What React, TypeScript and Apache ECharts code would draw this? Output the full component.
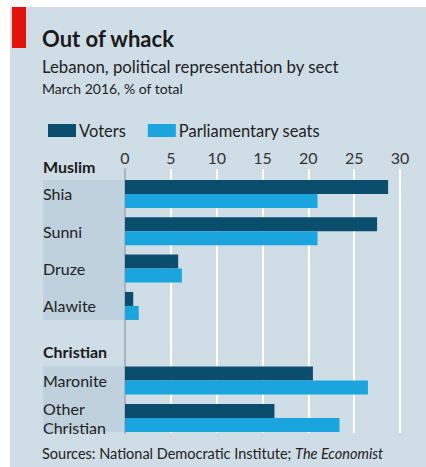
import React, { useEffect, useRef } from "react";
import * as echarts from "echarts";

const categories = ["Shia", "Sunni", "Druze", "Alawite", "", "Maronite", "Other\nChristian"];
const voters = [28.7, 27.5, 5.8, 0.9, null, 20.5, 16.3];
const seats = [21.0, 21.0, 6.2, 1.5, null, 26.5, 23.4];
const xTicks = [0, 5, 10, 15, 20, 25, 30];

const FONT = "Lato";
const BG = "#cfdde7";
const BAND = "#bed1dd";
const DARK = "#0b4d6c";
const LIGHT = "#1aa5de";

export default function App() {
  const ref = useRef<HTMLDivElement>(null);
  useEffect(() => {
    const chart = echarts.init(ref.current!, null, { renderer: "svg" });
    const option: any = {
      animation: false,
      backgroundColor: "#ffffff",
      textStyle: { fontFamily: FONT },
      legend: {
        left: 43,
        top: 117,
        itemWidth: 28,
        itemHeight: 13,
        itemGap: 22,
        icon: "rect",
        textStyle: { fontFamily: FONT, fontSize: 16.5, color: "#222", padding: [0, 0, 0, -2] },
        data: ["Voters", "Parliamentary seats"],
      },
      grid: [
        { left: 125, right: 26, top: 175.3, height: 261.3 },
        { left: 125, right: 26, top: 169, bottom: 34 },
      ],
      xAxis: [
        { type: "value", gridIndex: 0, min: 0, max: 30, interval: 5, show: false },
        {
          type: "value",
          gridIndex: 1,
          min: 0,
          max: 30,
          interval: 5,
          position: "top",
          axisLine: { show: false },
          axisTick: { show: false },
          axisLabel: {
            margin: 4,
            fontFamily: FONT,
            fontSize: 16,
            color: "#333",
            customValues: xTicks,
          },
          splitLine: { show: true, lineStyle: { color: "#ffffff", width: 2 } },
        },
      ],
      yAxis: [
        {
          type: "category",
          gridIndex: 0,
          inverse: true,
          data: categories,
          axisLine: { show: false },
          axisTick: { show: false },
          axisLabel: {
            align: "left",
            margin: 82,
            fontFamily: FONT,
            fontSize: 16,
            color: "#222",
            lineHeight: 19,
          },
        },
        {
          type: "value",
          gridIndex: 1,
          min: 0,
          max: 1,
          axisLine: { show: true, lineStyle: { color: "#8c9ba6", width: 1.5 } },
          axisTick: { show: false },
          axisLabel: { show: false },
          splitLine: { show: false },
        },
      ],
      series: [
        {
          name: "Voters",
          type: "bar",
          xAxisIndex: 0,
          yAxisIndex: 0,
          data: voters,
          barWidth: 14,
          barGap: "0%",
          itemStyle: { color: DARK },
          z: 3,
        },
        {
          name: "Parliamentary seats",
          type: "bar",
          xAxisIndex: 0,
          yAxisIndex: 0,
          data: seats,
          barWidth: 14,
          barGap: "0%",
          itemStyle: { color: LIGHT },
          z: 3,
        },
      ],
    };
    chart.setOption(option);

    const top = (c: string) => chart.convertToPixel({ yAxisIndex: 0 }, c) as number;
    const half = 14;
    const y0 = top("Shia") - half;
    const y1 = top("Alawite") + half;
    const y2 = top("Maronite") - half;
    const y3 = top("Other\nChristian") + half;
    const yChr = top("");

    chart.setOption({
      graphic: [
        { type: "rect", z: -10, shape: { x: 10, y: 7, width: 416, height: 460 }, style: { fill: BG }, silent: true },
        { type: "rect", z: -9, shape: { x: 12, y: 7, width: 14, height: 41 }, style: { fill: "#e3120b" }, silent: true },
        { type: "rect", z: -8, shape: { x: 43, y: y0, width: 82, height: y1 - y0 }, style: { fill: BAND }, silent: true },
        { type: "rect", z: -8, shape: { x: 43, y: y2, width: 82, height: y3 - y2 }, style: { fill: BAND }, silent: true },
        {
          type: "text", left: 42, top: 27,
          style: { text: "Out of whack", font: `bold 22px ${FONT}`, fill: "#1a1a1a" },
        },
        {
          type: "text", left: 42, top: 58,
          style: { text: "Lebanon, political representation by sect", font: `16.8px ${FONT}`, fill: "#222" },
        },
        {
          type: "text", left: 42, top: 81,
          style: { text: "March 2016, % of total", font: `14px ${FONT}`, fill: "#222" },
        },
        {
          type: "text", left: 43, top: 158,
          style: { text: "Muslim", font: `bold 16px ${FONT}`, fill: "#1a1a1a" },
        },
        {
          type: "text", left: 43, top: yChr,
          style: { text: "Christian", font: `bold 16px ${FONT}`, fill: "#1a1a1a" },
        },
        {
          type: "text", left: 42, top: 446,
          style: {
            rich: {
              a: { fontFamily: FONT, fontSize: 14.5, fill: "#222" },
              b: { fontFamily: FONT, fontSize: 14.5, fontStyle: "italic", fill: "#222" },
            },
            text: "{a|Sources: National Democratic Institute; }{b|The Economist}",
          },
        },
      ],
    });

    return () => chart.dispose();
  }, []);
  return (
    <div
      ref={ref}
      style={{ position: "fixed", left: 0, top: 0, width: 426, height: 467 }}
    />
  );
}
